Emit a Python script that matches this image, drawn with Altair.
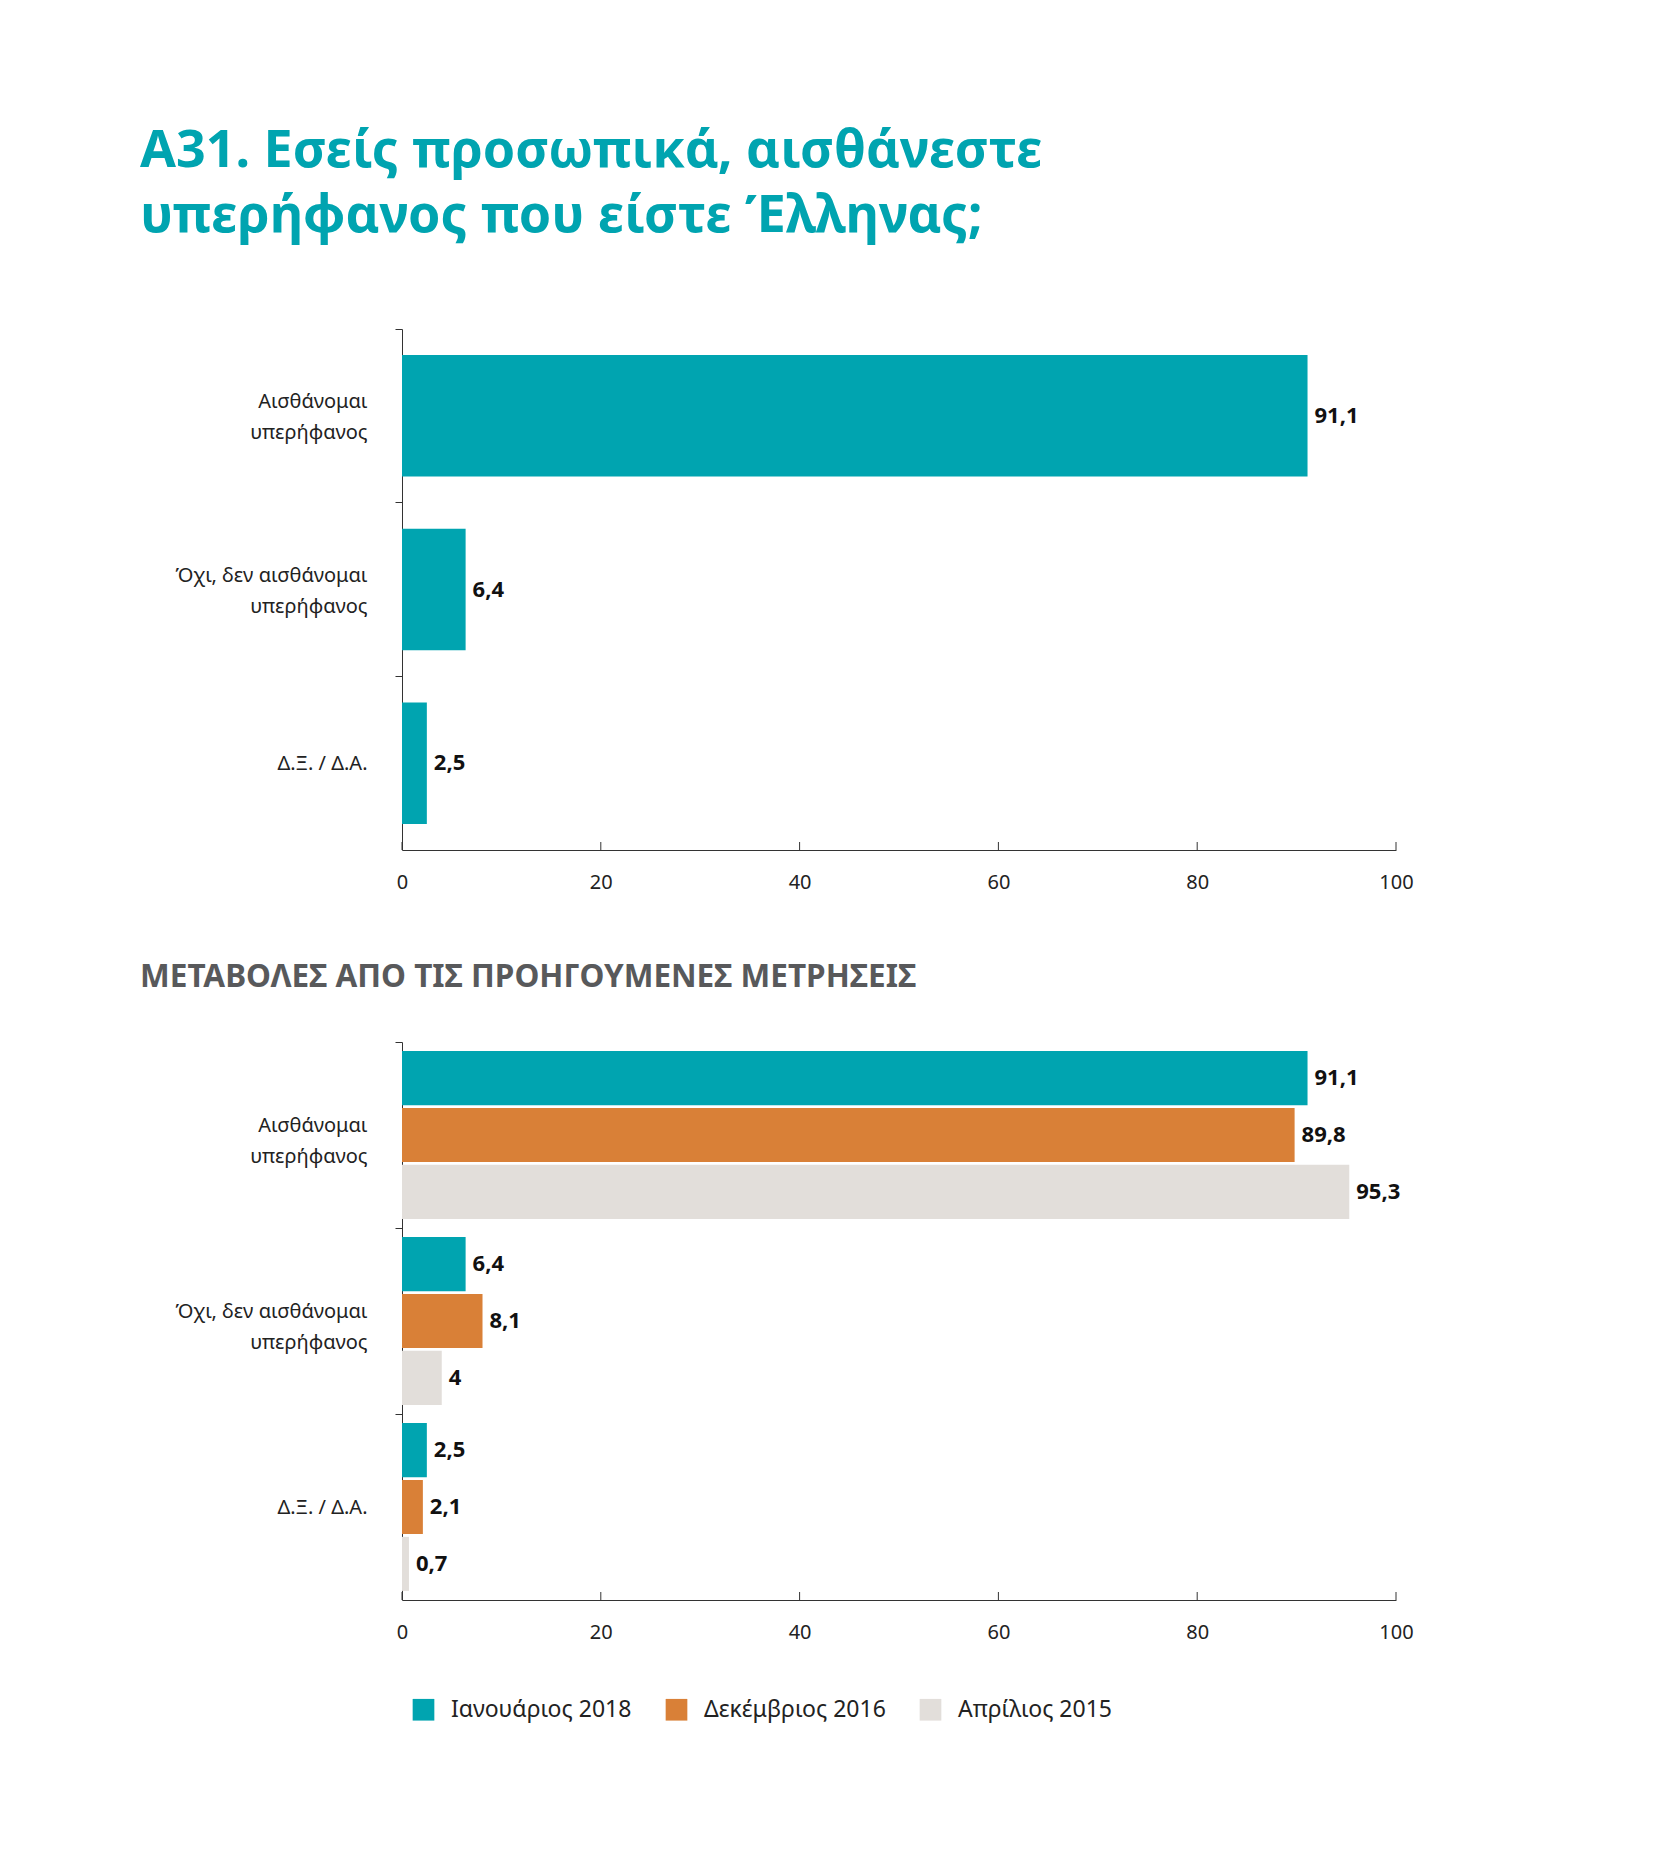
import altair as alt
import pandas as pd

# ---- data ----
categories = ["Αισθάνομαι|υπερήφανος", "Όχι, δεν αισθάνομαι|υπερήφανος", "Δ.Ξ. / Δ.Α."]
current_values = [91.1, 6.4, 2.5]

periods = ["Ιανουάριος 2018", "Δεκέμβριος 2016", "Απρίλιος 2015"]
jan2018 = [91.1, 6.4, 2.5]
dec2016 = [89.8, 8.1, 2.1]
apr2015 = [95.3, 4.0, 0.7]
period_colors = ["#00A4B0", "#D98037", "#E2DEDA"]
x_ticks = [0, 20, 40, 60, 80, 100]

FONT = "Noto Sans"
W = 994
H_TOP = 521
H_BOT = 558
AXIS_COLOR = "#333333"

label_expr = "replace(format(datum.value, '.1~f'), '.', ',')"

top_df = pd.DataFrame({"cat": categories, "value": current_values})
rows = []
for p, vals in zip(periods, [jan2018, dec2016, apr2015]):
    for c, v in zip(categories, vals):
        rows.append({"cat": c, "period": p, "value": v})
bot_df = pd.DataFrame(rows)
tick_df = pd.DataFrame({"v": x_ticks})

x_axis = alt.Axis(values=x_ticks, ticks=False, grid=False, domainColor=AXIS_COLOR,
                  labelFont=FONT, labelFontSize=20, labelColor="#222222",
                  labelPadding=22, labelFlush=False)
x_scale = alt.Scale(domain=[0, 100], nice=False)


def y_axis(multi_offset):
    return alt.Axis(labelExpr="split(datum.value, '|')", bandPosition=0,
                    tickSize=7, tickColor=AXIS_COLOR, domainColor=AXIS_COLOR,
                    labelFont=FONT, labelFontSize=20, labelColor="#222222",
                    labelLineHeight=31, labelPadding=28, labelLimit=400,
                    labelOffset={"condition": {"test": "indexof(datum.value, '|') >= 0",
                                               "value": multi_offset},
                                 "value": 1},
                    minExtent=262, maxExtent=262)


# ---- top chart ----
top_base = alt.Chart(top_df).transform_calculate(label=label_expr)
top_y = alt.Y("cat:N", sort=categories, title=None,
              scale=alt.Scale(paddingInner=0, paddingOuter=0), axis=y_axis(-14))
top_bars = top_base.mark_bar(color=period_colors[0], height={"band": 0.7}).encode(
    x=alt.X("value:Q", scale=x_scale, axis=x_axis, title=None),
    y=top_y,
)
top_text = top_base.mark_text(align="left", dx=7, font=FONT, fontSize=22,
                              fontWeight="bold", color="#111111").encode(
    x=alt.X("value:Q", scale=x_scale, title=None),
    y=top_y,
    text="label:N",
)
top_ticks = alt.Chart(tick_df).mark_rule(color=AXIS_COLOR).encode(
    x=alt.X("v:Q", scale=x_scale, title=None),
    y=alt.value(H_TOP), y2=alt.value(H_TOP - 8),
)
top = alt.layer(top_bars, top_text, top_ticks).properties(width=W, height=H_TOP)

# ---- bottom chart ----
bot_base = alt.Chart(bot_df).transform_calculate(label=label_expr)
bot_y = alt.Y("cat:N", sort=categories, title=None,
              scale=alt.Scale(paddingInner=0, paddingOuter=0), axis=y_axis(-9))
bot_yoff = alt.YOffset("period:N", sort=periods,
                       scale=alt.Scale(paddingInner=0.05, paddingOuter=0.16))
bot_bars = bot_base.mark_bar().encode(
    x=alt.X("value:Q", scale=x_scale, axis=x_axis, title=None),
    y=bot_y,
    yOffset=bot_yoff,
    color=alt.Color("period:N", sort=periods,
                    scale=alt.Scale(domain=periods, range=period_colors),
                    legend=alt.Legend(title=None, orient="none", direction="horizontal",
                                      legendX=10, legendY=1369,
                                      symbolType="square", symbolSize=470,
                                      symbolStrokeWidth=0, symbolOpacity=1,
                                      labelFont=FONT, labelFontSize=23, labelLimit=400,
                                      labelColor="#222222", labelOffset=16,
                                      columnPadding=33)),
)
bot_text = bot_base.mark_text(align="left", dx=7, font=FONT, fontSize=22,
                              fontWeight="bold", color="#111111").encode(
    x=alt.X("value:Q", scale=x_scale, title=None),
    y=bot_y,
    yOffset=bot_yoff,
    text="label:N",
)
bot_ticks = alt.Chart(tick_df).mark_rule(color=AXIS_COLOR).encode(
    x=alt.X("v:Q", scale=x_scale, title=None),
    y=alt.value(H_BOT), y2=alt.value(H_BOT - 8),
)
bottom = alt.layer(bot_bars, bot_text, bot_ticks).properties(
    width=W, height=H_BOT,
    title=alt.TitleParams("ΜΕΤΑΒΟΛΕΣ ΑΠΟ ΤΙΣ ΠΡΟΗΓΟΥΜΕΝΕΣ ΜΕΤΡΗΣΕΙΣ", anchor="start",
                          frame="bounds", font=FONT, fontSize=31.5, fontWeight="bold",
                          color="#58595B", offset=48),
)

chart = alt.vconcat(top, bottom, spacing=70).properties(
    title=alt.TitleParams(["A31. Εσείς προσωπικά, αισθάνεστε", "υπερήφανος που είστε Έλληνας;"],
                          anchor="start", font=FONT, fontSize=52, fontWeight="bold",
                          color="#00A4B0", lineHeight=65, offset=86),
    padding={"left": 132, "top": 116, "right": 40, "bottom": 40},
).configure_view(stroke=None).configure_concat(spacing=70)

chart.save("out.html", embed_options={"renderer": "svg", "actions": False})
